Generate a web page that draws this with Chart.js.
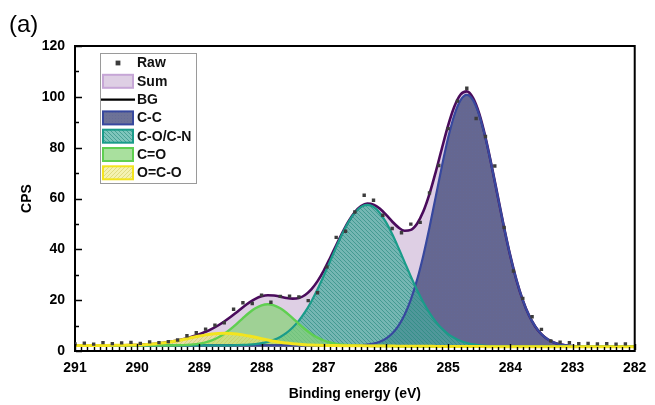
<!DOCTYPE html>
<html>
<head>
<meta charset="utf-8">
<script src="https://cdn.jsdelivr.net/npm/chart.js@4.4.1/dist/chart.umd.min.js"></script>
<style>
  html, body { margin: 0; padding: 0; background: #ffffff; }
  #wrap { position: relative; width: 655px; height: 405px; }
</style>
</head>
<body>
<div id="wrap"><canvas id="xps" width="655" height="405"></canvas></div>
<script>
// C 1s spectrum: measured counts, fitted envelope, background and four components.

// Binding energies of the fitted curves (eV)
const fitEnergy = [
  291.0, 290.9, 290.8, 290.7, 290.6, 290.5, 290.4, 290.3, 290.2, 290.1,
  290.0, 289.9, 289.8, 289.7, 289.6, 289.5, 289.4, 289.3, 289.2, 289.1,
  289.0, 288.9, 288.8, 288.7, 288.6, 288.5, 288.4, 288.3, 288.2, 288.1,
  288.0, 287.9, 287.8, 287.7, 287.6, 287.5, 287.4, 287.3, 287.2, 287.1,
  287.0, 286.9, 286.8, 286.7, 286.6, 286.5, 286.4, 286.3, 286.2, 286.1,
  286.0, 285.9, 285.8, 285.7, 285.6, 285.5, 285.4, 285.3, 285.2, 285.1,
  285.0, 284.9, 284.8, 284.7, 284.6, 284.5, 284.4, 284.3, 284.2, 284.1,
  284.0, 283.9, 283.8, 283.7, 283.6, 283.5, 283.4, 283.3, 283.2, 283.1,
  283.0, 282.9, 282.8, 282.7, 282.6, 282.5, 282.4, 282.3, 282.2, 282.1,
  282.0
];

// Background (BG)
const bgValues = [
  2.2, 2.2, 2.2, 2.2, 2.2, 2.2, 2.2, 2.2, 2.2, 2.2,
  2.2, 2.2, 2.2, 2.2, 2.2, 2.2, 2.2, 2.2, 2.2, 2.2,
  2.2, 2.2, 2.2, 2.2, 2.2, 2.2, 2.2, 2.2, 2.2, 2.2,
  2.2, 2.2, 2.2, 2.2, 2.2, 2.2, 2.18, 2.17, 2.16, 2.15,
  2.13, 2.12, 2.10, 2.08, 2.06, 2.04, 2.02, 2.00, 1.98, 1.96,
  1.94, 1.92, 1.90, 1.89, 1.87, 1.86, 1.84, 1.83, 1.81, 1.80,
  1.78, 1.77, 1.76, 1.75, 1.74, 1.73, 1.72, 1.71, 1.71, 1.70,
  1.70, 1.70, 1.70, 1.70, 1.70, 1.70, 1.70, 1.70, 1.70, 1.70,
  1.70, 1.70, 1.70, 1.70, 1.70, 1.70, 1.70, 1.70, 1.70, 1.70,
  1.70
];

// Fitted envelope (Sum)
const sumValues = [
  2.2, 2.2, 2.2, 2.2, 2.2, 2.21, 2.22, 2.24, 2.27, 2.32,
  2.39, 2.49, 2.64, 2.85, 3.12, 3.48, 3.92, 4.44, 5.06, 5.77,
  6.59, 7.56, 8.69, 10.03, 11.60, 13.36, 15.28, 17.24, 19.03, 20.52,
  21.51, 21.95, 21.85, 21.39, 20.86, 20.59, 20.87, 22.05, 24.26, 27.50,
  31.66, 36.48, 41.59, 46.61, 51.09, 54.66, 57.02, 58.00, 57.60, 56.03,
  53.64, 50.96, 48.63, 47.33, 47.66, 50.10, 54.86, 61.81, 70.40, 79.76,
  88.76, 96.18, 100.91, 102.16, 99.57, 93.35, 84.11, 72.83, 60.64, 48.53,
  37.41, 27.82, 20.03, 14.04, 9.67, 6.63, 4.63, 3.37, 2.61, 2.18,
  1.94, 1.82, 1.75, 1.72, 1.70, 1.70, 1.70, 1.70, 1.70, 1.70,
  1.70
];

// C-C component
const ccValues = [
  2.2, 2.2, 2.2, 2.2, 2.2, 2.2, 2.2, 2.2, 2.2, 2.2,
  2.2, 2.2, 2.2, 2.2, 2.2, 2.2, 2.2, 2.2, 2.2, 2.2,
  2.2, 2.2, 2.2, 2.2, 2.2, 2.2, 2.2, 2.2, 2.2, 2.2,
  2.2, 2.2, 2.2, 2.2, 2.2, 2.2, 2.18, 2.17, 2.16, 2.15,
  2.13, 2.12, 2.10, 2.10, 2.11, 2.16, 2.26, 2.48, 2.89, 3.63,
  4.87, 6.85, 9.87, 14.23, 20.20, 27.97, 37.52, 48.61, 60.64, 72.74,
  83.86, 92.86, 98.72, 100.75, 98.70, 92.82, 83.80, 72.65, 60.54, 48.48,
  37.38, 27.81, 20.03, 14.04, 9.67, 6.63, 4.63, 3.37, 2.61, 2.18,
  1.94, 1.82, 1.75, 1.72, 1.70, 1.70, 1.70, 1.70, 1.70, 1.70,
  1.70
];

// C-O/C-N component
const coValues = [
  2.2, 2.2, 2.2, 2.2, 2.2, 2.2, 2.2, 2.2, 2.2, 2.2,
  2.2, 2.2, 2.2, 2.2, 2.2, 2.2, 2.2, 2.2, 2.2, 2.2,
  2.2, 2.2, 2.2, 2.21, 2.23, 2.25, 2.30, 2.38, 2.51, 2.73,
  3.07, 3.61, 4.39, 5.52, 7.10, 9.22, 11.94, 15.37, 19.50, 24.28,
  29.59, 35.22, 40.86, 46.19, 50.83, 54.44, 56.73, 57.50, 56.69, 54.36,
  50.71, 46.03, 40.66, 34.99, 29.33, 23.99, 19.18, 15.03, 11.57, 8.82,
  6.68, 5.09, 3.95, 3.16, 2.61, 2.26, 2.03, 1.89, 1.81, 1.75,
  1.73, 1.71, 1.70, 1.70, 1.70, 1.70, 1.70, 1.70, 1.70, 1.70,
  1.70, 1.70, 1.70, 1.70, 1.70, 1.70, 1.70, 1.70, 1.70, 1.70,
  1.70
];

// C=O component
const cdoValues = [
  2.2, 2.2, 2.2, 2.2, 2.2, 2.2, 2.2, 2.2, 2.2, 2.2,
  2.2, 2.2, 2.2, 2.2, 2.2, 2.22, 2.25, 2.30, 2.41, 2.59,
  2.91, 3.42, 4.20, 5.30, 6.77, 8.59, 10.69, 12.92, 15.04, 16.81,
  17.99, 18.40, 17.99, 16.81, 15.04, 12.92, 10.67, 8.56, 6.73, 5.25,
  4.13, 3.34, 2.81, 2.47, 2.27, 2.14, 2.07, 2.02, 1.98, 1.96,
  1.94, 1.92, 1.90, 1.89, 1.87, 1.86, 1.84, 1.83, 1.81, 1.80,
  1.78, 1.77, 1.76, 1.75, 1.74, 1.73, 1.72, 1.71, 1.71, 1.70,
  1.70, 1.70, 1.70, 1.70, 1.70, 1.70, 1.70, 1.70, 1.70, 1.70,
  1.70, 1.70, 1.70, 1.70, 1.70, 1.70, 1.70, 1.70, 1.70, 1.70,
  1.70
];

// O=C-O component
const ocoValues = [
  2.2, 2.2, 2.2, 2.2, 2.2, 2.21, 2.22, 2.24, 2.27, 2.32,
  2.39, 2.49, 2.64, 2.85, 3.12, 3.46, 3.87, 4.34, 4.85, 5.38,
  5.88, 6.34, 6.69, 6.92, 7.00, 6.92, 6.69, 6.34, 5.88, 5.38,
  4.85, 4.34, 3.87, 3.46, 3.12, 2.85, 2.62, 2.46, 2.35, 2.27,
  2.20, 2.16, 2.12, 2.09, 2.06, 2.04, 2.02, 2.00, 1.98, 1.96,
  1.94, 1.92, 1.90, 1.89, 1.87, 1.86, 1.84, 1.83, 1.81, 1.80,
  1.78, 1.77, 1.76, 1.75, 1.74, 1.73, 1.72, 1.71, 1.71, 1.70,
  1.70, 1.70, 1.70, 1.70, 1.70, 1.70, 1.70, 1.70, 1.70, 1.70,
  1.70, 1.70, 1.70, 1.70, 1.70, 1.70, 1.70, 1.70, 1.70, 1.70,
  1.70
];

// Measured spectrum (Raw), 0.15 eV steps
const rawEnergy = [
  291.00, 290.85, 290.70, 290.55, 290.40, 290.25, 290.10, 289.95, 289.80, 289.65,
  289.50, 289.35, 289.20, 289.05, 288.90, 288.75, 288.60, 288.45, 288.30, 288.15,
  288.00, 287.85, 287.70, 287.55, 287.40, 287.25, 287.10, 286.95, 286.80, 286.65,
  286.50, 286.35, 286.20, 286.05, 285.90, 285.75, 285.60, 285.45, 285.30, 285.15,
  285.00, 284.85, 284.70, 284.55, 284.40, 284.25, 284.10, 283.95, 283.80, 283.65,
  283.50, 283.35, 283.20, 283.05, 282.90, 282.75, 282.60, 282.45, 282.30, 282.15
];
const rawValues = [
  2.8, 3.1, 2.7, 3.3, 2.9, 3.2, 3.4, 3.0, 3.6, 3.3,
  3.7, 4.3, 6.0, 7.2, 8.6, 10.2, 11.1, 16.4, 19.0, 18.7,
  22.0, 19.2, 21.5, 21.6, 21.3, 19.8, 22.9, 33.1, 44.7, 47.1,
  54.7, 61.3, 59.3, 53.4, 48.2, 46.5, 49.9, 50.6, 62.2, 73.0,
  87.5, 98.3, 103.4, 91.5, 84.4, 72.8, 48.6, 31.5, 20.7, 13.5,
  8.5, 4.0, 3.5, 3.3, 2.9, 3.0, 2.8, 2.9, 2.7, 2.8
];

// Axis settings
const xRange = [282, 291];
const yRange = [0, 120];
const xMajorStep = 1, xMinorStep = 0.1;
const yMajorStep = 20, yMinorStep = 10;

const FONT = "'Liberation Sans', Arial, Helvetica, sans-serif";

function pairs(xs, ys) { return xs.map((x, i) => ({ x: x, y: ys[i] })); }

// Fill textures
function hatch(base, line, dir, size, lw) {
  const c = document.createElement('canvas');
  c.width = size; c.height = size;
  const g = c.getContext('2d');
  g.fillStyle = base; g.fillRect(0, 0, size, size);
  g.strokeStyle = line; g.lineWidth = lw;
  g.beginPath();
  if (dir === '/') {
    g.moveTo(0, size); g.lineTo(size, 0);
    g.moveTo(-size / 2, size / 2); g.lineTo(size / 2, -size / 2);
    g.moveTo(size / 2, size * 1.5); g.lineTo(size * 1.5, size / 2);
  } else {
    g.moveTo(0, 0); g.lineTo(size, size);
    g.moveTo(-size / 2, size / 2); g.lineTo(size / 2, size * 1.5);
    g.moveTo(size / 2, -size / 2); g.lineTo(size * 1.5, size / 2);
  }
  g.stroke();
  return g.createPattern(c, 'repeat');
}
function dots(base, dot) {
  const c = document.createElement('canvas');
  c.width = 3; c.height = 3;
  const g = c.getContext('2d');
  g.fillStyle = base; g.fillRect(0, 0, 3, 3);
  g.fillStyle = dot; g.fillRect(1, 1, 1, 1);
  return g.createPattern(c, 'repeat');
}

const sumFill = 'rgba(200,175,210,0.6)';
const ccFill = dots('rgba(68,74,122,0.78)', 'rgba(100,106,152,0.8)');
const coFill = hatch('rgba(72,172,160,0.7)', 'rgba(40,138,126,0.7)', '\\', 4, 0.9);
const cdoFill = 'rgba(133,211,117,0.7)';
const ocoFill = hatch('rgba(235,232,115,0.55)', 'rgba(200,196,80,0.55)', '/', 4, 0.9);

const curve = { pointRadius: 0, cubicInterpolationMode: 'monotone' };

const BG_INDEX = 2;
const datasets = [
  { label: 'Raw', data: pairs(rawEnergy, rawValues), showLine: false, pointStyle: 'rect',
    pointRadius: 2.4, pointBackgroundColor: '#3c3c3c', pointBorderWidth: 0, order: 0 },
  Object.assign({ label: 'Sum', data: pairs(fitEnergy, sumValues), borderColor: '#4a0b5c', borderWidth: 2.6,
    backgroundColor: sumFill, fill: BG_INDEX, order: 6, legendBorder: '#c6a6d6' }, curve),
  Object.assign({ label: 'BG', data: pairs(fitEnergy, bgValues), borderColor: '#000000', borderWidth: 2,
    fill: false, order: 5 }, curve),
  Object.assign({ label: 'C-C', data: pairs(fitEnergy, ccValues), borderColor: '#37489e', borderWidth: 2.2,
    backgroundColor: ccFill, fill: BG_INDEX, order: 4 }, curve),
  Object.assign({ label: 'C-O/C-N', data: pairs(fitEnergy, coValues), borderColor: '#1a9c8a', borderWidth: 2.2,
    backgroundColor: coFill, fill: BG_INDEX, order: 3 }, curve),
  Object.assign({ label: 'C=O', data: pairs(fitEnergy, cdoValues), borderColor: '#5fcf50', borderWidth: 2.4,
    backgroundColor: cdoFill, fill: BG_INDEX, order: 2 }, curve),
  Object.assign({ label: 'O=C-O', data: pairs(fitEnergy, ocoValues), borderColor: '#f3e41e', borderWidth: 3,
    backgroundColor: ocoFill, fill: BG_INDEX, order: 1 }, curve)
];

// Frame, inward ticks, panel letter and the boxed legend
const decorations = {
  id: 'decorations',
  afterDraw(chart) {
    const { ctx, chartArea: a, scales: { x, y } } = chart;
    ctx.save();
    ctx.strokeStyle = '#000';
    ctx.lineWidth = 2;
    ctx.beginPath();
    ctx.moveTo(a.left - 1, a.top);
    ctx.lineTo(a.right, a.top);
    ctx.lineTo(a.right, a.bottom + 1);
    ctx.stroke();

    ctx.lineWidth = 1.4;
    ctx.beginPath();
    const nx = Math.round((xRange[1] - xRange[0]) / xMinorStep);
    for (let i = 0; i <= nx; i++) {
      const v = xRange[0] + i * xMinorStep;
      const px = Math.round(x.getPixelForValue(v)) + 0.5;
      const major = i % Math.round(xMajorStep / xMinorStep) === 0;
      ctx.moveTo(px, a.bottom - 1);
      ctx.lineTo(px, a.bottom - (major ? 7 : 4));
    }
    const ny = Math.round((yRange[1] - yRange[0]) / yMinorStep);
    for (let i = 0; i <= ny; i++) {
      const v = yRange[0] + i * yMinorStep;
      const py = Math.round(y.getPixelForValue(v)) + 0.5;
      const major = i % Math.round(yMajorStep / yMinorStep) === 0;
      ctx.moveTo(a.left + 1, py);
      ctx.lineTo(a.left + (major ? 7 : 4), py);
    }
    ctx.stroke();

    // panel letter
    ctx.fillStyle = '#000';
    ctx.font = '24px ' + FONT;
    ctx.textAlign = 'left';
    ctx.textBaseline = 'alphabetic';
    ctx.fillText('(a)', 9, 32);

    // legend
    const lx = a.left + 25, ly = a.top + 7, lw = 96, lh = 130;
    ctx.fillStyle = '#ffffff';
    ctx.fillRect(lx, ly, lw, lh);
    ctx.strokeStyle = '#9a9a9a';
    ctx.lineWidth = 1;
    ctx.strokeRect(lx + 0.5, ly + 0.5, lw, lh);
    const rowStep = 18.3, row0 = ly + 10;
    const sx = lx + 2, sw = 32, sh = 15;
    ctx.font = 'bold 14px ' + FONT;
    ctx.textBaseline = 'middle';
    chart.data.datasets.forEach((ds, i) => {
      const cy = row0 + i * rowStep;
      if (ds.label === 'Raw') {
        ctx.fillStyle = ds.pointBackgroundColor;
        ctx.fillRect(sx + 16 - 2.4, cy - 2.4, 4.8, 4.8);
      } else if (ds.label === 'BG') {
        ctx.strokeStyle = ds.borderColor;
        ctx.lineWidth = 2.2;
        ctx.beginPath();
        ctx.moveTo(sx - 1, cy); ctx.lineTo(sx + sw + 1, cy);
        ctx.stroke();
      } else {
        ctx.fillStyle = ds.backgroundColor;
        ctx.fillRect(sx + 1, cy - sh / 2 + 1, sw - 2, sh - 2);
        ctx.strokeStyle = ds.legendBorder || ds.borderColor;
        ctx.lineWidth = 2;
        ctx.strokeRect(sx + 1, cy - sh / 2 + 1, sw - 2, sh - 2);
      }
      ctx.fillStyle = '#111';
      ctx.fillText(ds.label, sx + sw + 3, cy + 0.5);
    });
    ctx.restore();
  }
};

const tickFont = { family: FONT, size: 14, weight: 'bold' };

new Chart(document.getElementById('xps'), {
  type: 'line',
  data: { datasets: datasets },
  options: {
    responsive: false,
    animation: false,
    events: [],
    layout: { padding: { top: 46, right: 16, left: 0, bottom: 0 } },
    plugins: {
      legend: { display: false },
      tooltip: { enabled: false },
      filler: { drawTime: 'beforeDatasetsDraw' }
    },
    scales: {
      x: {
        type: 'linear', position: 'bottom', reverse: true,
        min: xRange[0], max: xRange[1],
        ticks: { stepSize: xMajorStep, color: '#000', font: tickFont, padding: 8.6, maxRotation: 0, autoSkip: false },
        grid: { display: false, drawTicks: false },
        border: { display: true, color: '#000', width: 2 },
        title: { display: true, text: 'Binding energy (eV)', color: '#000', font: tickFont, padding: { top: 0, bottom: 2 } },
        afterFit(s) { s.height = 54; }
      },
      y: {
        type: 'linear', position: 'left',
        min: yRange[0], max: yRange[1],
        ticks: { stepSize: yMajorStep, color: '#000', font: tickFont, padding: 10 },
        grid: { display: false, drawTicks: false },
        border: { display: true, color: '#000', width: 2 },
        title: { display: true, text: 'CPS', color: '#000', font: tickFont, padding: { top: 18.6, bottom: 0 } },
        afterFit(s) { s.width = 75; }
      }
    }
  },
  plugins: [decorations]
});
</script>
</body>
</html>
